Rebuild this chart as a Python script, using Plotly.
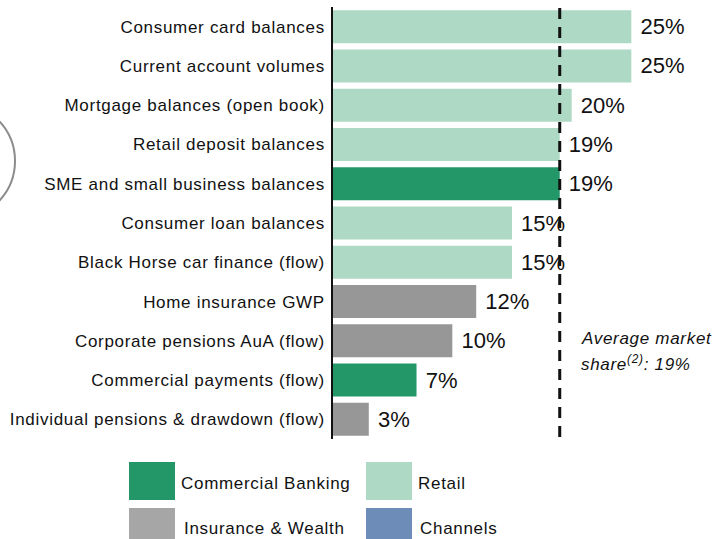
import plotly.graph_objects as go

# ---- data ----
categories = [
    "Consumer card balances",
    "Current account volumes",
    "Mortgage balances (open book)",
    "Retail deposit balances",
    "SME and small business balances",
    "Consumer loan balances",
    "Black Horse car finance (flow)",
    "Home insurance GWP",
    "Corporate pensions AuA (flow)",
    "Commercial payments (flow)",
    "Individual pensions & drawdown (flow)",
]
market_share = [25, 25, 20, 19, 19, 15, 15, 12, 10, 7, 3]
segments = [
    "Retail", "Retail", "Retail", "Retail", "Commercial Banking",
    "Retail", "Retail", "Insurance & Wealth", "Insurance & Wealth",
    "Commercial Banking", "Insurance & Wealth",
]
average_share = 19
legend_items = ["Commercial Banking", "Retail", "Insurance & Wealth", "Channels"]

# ---- styles ----
bar_colors = {
    "Commercial Banking": "#249769",
    "Retail": "#ADD9C5",
    "Insurance & Wealth": "#979797",
    "Channels": "#6E8CB8",
}
legend_colors = {
    "Commercial Banking": "#249769",
    "Retail": "#ADD9C5",
    "Insurance & Wealth": "#A6A6A6",
    "Channels": "#6E8CB8",
}
FONT = "Arial, Liberation Sans, sans-serif"
TXT = 17
LS = 0.7
W, H = 715, 539
ML, MR, MT, MB = 333, 24, 7, 100
PW, PH = W - ML - MR, H - MT - MB


def px_x(px):
    return (px - ML) / PW


def px_y(py):
    return (H - MB - py) / PH


def spaced(t, ls=LS):
    return f"<span style='letter-spacing:{ls}px'>{t}</span>"


fig = go.Figure()
fig.add_trace(go.Bar(
    y=categories,
    x=market_share,
    orientation="h",
    marker=dict(color=[bar_colors[s] for s in segments], line=dict(width=0)),
    width=0.84,
    text=[f"\u00a0{v}%" for v in market_share],
    textposition="outside",
    textfont=dict(family=FONT, size=22, color="#111111"),
    cliponaxis=False,
    hoverinfo="skip",
))

# average market share dashed line
fig.add_shape(type="line", xref="x", yref="paper",
              x0=average_share, x1=average_share, y0=px_y(437), y1=px_y(8),
              line=dict(color="#111111", width=3, dash="11px,8px"))

fig.add_annotation(xref="paper", yref="paper", x=px_x(579), y=px_y(338),
                   xanchor="left", yanchor="middle", showarrow=False,
                   text=spaced("<i>Average market</i>"),
                   font=dict(family=FONT, size=TXT, color="#111111"))
fig.add_annotation(xref="paper", yref="paper", x=px_x(579), y=px_y(363),
                   xanchor="left", yanchor="middle", showarrow=False,
                   text=spaced(f"<i>share<sup>(2)</sup>: {average_share}%</i>"),
                   font=dict(family=FONT, size=TXT, color="#111111"))

# partial circle on the left edge
fig.add_shape(type="circle", xref="paper", yref="paper",
              x0=px_x(-101), x1=px_x(15), y0=px_y(219), y1=px_y(103),
              line=dict(color="#8C8C8C", width=2))

# custom legend (square left, square top, square bottom, text left, text centre y)
legend_pos = [(129, 462, 500, 179, 483), (366, 462, 500, 416, 483),
              (129, 508, 546, 182, 528), (366, 508, 546, 418, 528)]
for name, (x0, y0, y1, tx, ty) in zip(legend_items, legend_pos):
    fig.add_shape(type="rect", xref="paper", yref="paper",
                  x0=px_x(x0), x1=px_x(x0 + 46), y0=px_y(y1), y1=px_y(y0),
                  line=dict(width=0), fillcolor=legend_colors[name])
    fig.add_annotation(xref="paper", yref="paper", x=px_x(tx), y=px_y(ty),
                       xanchor="left", yanchor="middle", showarrow=False,
                       text=spaced(name),
                       font=dict(family=FONT, size=TXT, color="#111111"))

fig.update_layout(
    width=W, height=H,
    margin=dict(l=ML, r=MR, t=MT, b=MB, autoexpand=False),
    paper_bgcolor="white", plot_bgcolor="white",
    showlegend=False,
    bargap=0.16,
)
fig.update_xaxes(range=[0, 30], visible=False, showgrid=False, zeroline=False)
fig.update_yaxes(
    categoryorder="array", categoryarray=categories,
    autorange="reversed",
    tickvals=categories,
    ticktext=[spaced(c) for c in categories],
    tickfont=dict(family=FONT, size=TXT, color="#111111"),
    showline=True, linecolor="#111111", linewidth=1.5,
    showgrid=False, zeroline=False, ticks="", ticklabelstandoff=3,
)

fig.write_html(
    "out.html",
    config={"displayModeBar": False},
    post_script="document.body.style.margin='0';document.body.style.overflow='hidden';",
)
